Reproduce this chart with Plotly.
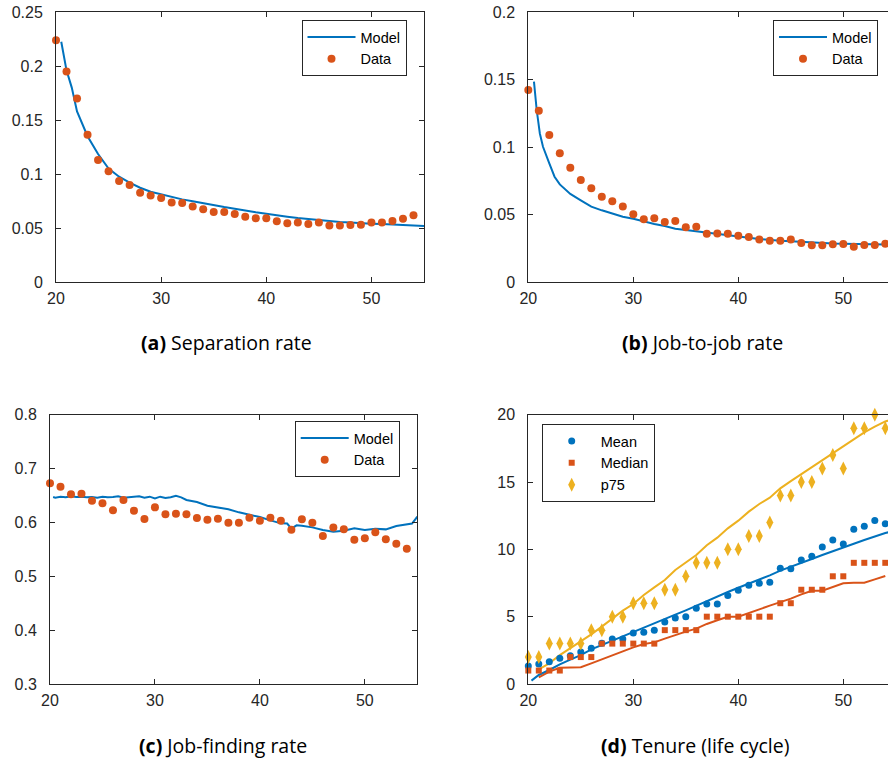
import plotly.graph_objects as go

BLUE = "#0072BD"
ORANGE = "#D95319"
YELLOW = "#EDB120"
AXC = "#262626"

ages = list(range(20, 55))

# (a) Separation rate
sep_data = [0.2238, 0.195, 0.1698, 0.1364, 0.113, 0.1025, 0.0935, 0.0898, 0.0827, 0.080,
            0.0778, 0.0735, 0.0731, 0.0698, 0.0673, 0.0648, 0.0648, 0.063, 0.0605, 0.059,
            0.059, 0.0562, 0.0543, 0.055, 0.0537, 0.055, 0.0522, 0.0522, 0.0528, 0.0531,
            0.055, 0.0552, 0.0565, 0.0586, 0.0617]
sep_model_age = [20.5, 21, 21.5, 22, 23, 24, 25, 26, 27, 28, 29, 30, 31, 32, 33, 34, 35, 36, 37, 38,
                 39, 40, 41, 42, 43, 44, 45, 46, 47, 48, 49, 50, 51, 52, 53, 54, 55]
sep_model = [0.2225, 0.196, 0.18, 0.158, 0.135, 0.1185, 0.105, 0.0975, 0.092, 0.0873, 0.0836,
             0.0812, 0.0784, 0.0765, 0.0747, 0.0728, 0.071, 0.0694, 0.0679, 0.066, 0.0645,
             0.0633, 0.0617, 0.0605, 0.0593, 0.0583, 0.0574, 0.0565, 0.0556, 0.055, 0.0543,
             0.054, 0.0537, 0.0534, 0.0528, 0.0525, 0.0519]

# (b) Job-to-job rate
j2j_data = [0.1422, 0.1269, 0.1089, 0.0953, 0.0847, 0.0756, 0.0694, 0.0632, 0.0598, 0.056,
            0.0501, 0.0464, 0.0472, 0.0444, 0.0452, 0.0405, 0.041, 0.0358, 0.036, 0.0358,
            0.0343, 0.0333, 0.0314, 0.0306, 0.0306, 0.0314, 0.0289, 0.0272, 0.0272, 0.0279,
            0.0281, 0.0262, 0.0274, 0.0274, 0.0284]
j2j_model_age = [20.54, 20.8, 21.1, 21.4, 22, 22.5, 23, 24, 25, 26, 27, 28, 29, 30, 31, 32, 33, 34,
                 35, 36, 37, 38, 39, 40, 41, 42, 43, 44, 45, 46, 47, 48, 49, 50, 51, 52, 53, 54, 55]
j2j_model = [0.1484, 0.1274, 0.110, 0.1002, 0.0879, 0.078, 0.0723, 0.0652, 0.0605, 0.0558,
             0.0531, 0.0509, 0.0484, 0.0469, 0.0447, 0.043, 0.0415, 0.0395, 0.0385, 0.0375,
             0.0363, 0.0353, 0.0343, 0.0336, 0.0328, 0.0319, 0.0311, 0.0306, 0.0301, 0.0296,
             0.0291, 0.0289, 0.0286, 0.0284, 0.0281, 0.0279, 0.0279, 0.0277, 0.0277]

# (c) Job-finding rate
jf_data = [0.6725, 0.6663, 0.6521, 0.6533, 0.6403, 0.6354, 0.6224, 0.6416, 0.6218, 0.6063,
           0.628, 0.615, 0.6162, 0.615, 0.6082, 0.6051, 0.6069, 0.5995, 0.5995, 0.6088,
           0.6032, 0.6088, 0.6032, 0.5865, 0.6057, 0.5995, 0.5748, 0.5908, 0.5871, 0.5679,
           0.5704, 0.5816, 0.5686, 0.5605, 0.5512]
jf_model_age = [20.3, 20.5, 21, 21.5, 22, 22.5, 23, 23.5, 24, 24.5, 25, 25.5, 26, 26.5, 27, 27.5,
                28, 28.5, 29, 29.5, 30, 30.5, 31, 31.5, 32, 32.5, 33, 34, 35, 36, 37, 38, 39,
                40, 41, 42, 42.6, 43, 43.5, 44, 45, 46, 47, 48, 49, 50, 51, 52, 53, 54, 54.5, 55]
jf_model = [0.6472, 0.646, 0.6478, 0.6466, 0.6484, 0.6472, 0.6478, 0.6466, 0.6472, 0.6459,
            0.6478, 0.6466, 0.6472, 0.6484, 0.6459, 0.6466, 0.6478, 0.6484, 0.6459, 0.6478,
            0.6447, 0.6478, 0.6453, 0.6466, 0.6496, 0.6466, 0.6416, 0.6379, 0.6311, 0.6273,
            0.6243, 0.6187, 0.615, 0.61, 0.6038, 0.5983, 0.5980, 0.5884, 0.5946, 0.594,
            0.5908, 0.5859, 0.5828, 0.5847, 0.589, 0.5859, 0.5884, 0.5871, 0.5933, 0.5964,
            0.598, 0.6106]

# (d) Tenure (life cycle)
ten_mean = [1.34, 1.49, 1.66, 1.91, 2.1, 2.38, 2.65, 3.02, 3.34, 3.34, 3.79, 3.84, 4.0, 4.6,
            4.9, 5.0, 5.62, 5.94, 5.94, 6.58, 6.96, 7.33, 7.48, 7.55, 8.59, 8.56, 9.21, 9.48,
            10.17, 10.69, 10.4, 11.49, 11.71, 12.15, 11.9]
ten_median = [1, 1, 1, 1, 2, 2, 2, 3, 3, 3, 3, 3, 3, 4, 4, 4, 4, 5, 5, 5, 5, 5, 5, 5, 6, 6,
              7, 7, 7, 8, 8, 9, 9, 9, 9]
ten_p75 = [2, 2, 3, 3, 3, 3, 4, 4, 5, 5, 6, 6, 6, 7, 7, 8, 9, 9, 9, 10, 10, 11, 11, 12, 14,
           14, 15, 15, 16, 17, 16, 19, 19, 20, 19]
mean_model_age = [20.3] + list(range(21, 56))
mean_model = [0.25, 0.67, 1.04, 1.46, 1.81, 2.15, 2.57, 2.9, 3.22, 3.54, 3.86, 4.18, 4.5, 4.83,
              5.15, 5.47, 5.82, 6.19, 6.49, 6.83, 7.15, 7.45, 7.77, 8.07, 8.42, 8.69, 8.99,
              9.28, 9.58, 9.88, 10.15, 10.42, 10.69, 10.97, 11.21, 11.41]
med_model_age = list(range(21, 55))
med_model = [0.5, 0.92, 1.21, 1.24, 1.24, 1.53, 1.83, 2.13, 2.43, 2.72, 2.97, 3.09, 3.37, 3.64,
             3.89, 4.11, 4.46, 4.73, 5.0, 5.0, 5.3, 5.54, 5.82, 6.06, 6.34, 6.66, 6.93, 6.93,
             7.23, 7.48, 7.52, 7.52, 7.77, 8.02]
p75_model_age = list(range(21, 56))
p75_model = [1.09, 1.53, 2.15, 2.65, 3.14, 3.69, 4.26, 4.88, 5.45, 5.94, 6.61, 7.18, 7.72, 8.47,
             9.01, 9.58, 10.3, 10.87, 11.56, 12.13, 12.8, 13.37, 13.84, 14.53, 15.07, 15.59,
             16.14, 16.63, 17.18, 17.67, 18.17, 18.69, 19.11, 19.5, 19.73]

W, H = 888, 761
fig = go.Figure()

def line(x, y, color, xa, ya, name=None, legend=None, show=False):
    fig.add_trace(go.Scatter(x=x, y=y, mode="lines", line=dict(color=color, width=2),
                             xaxis=xa, yaxis=ya, name=name, showlegend=show,
                             legend=legend, cliponaxis=True))

def pts(x, y, color, xa, ya, name, legend, symbol="circle", size=8, show=True):
    fig.add_trace(go.Scatter(x=x, y=y, mode="markers",
                             marker=dict(color=color, size=size, symbol=symbol, line=dict(width=0)),
                             xaxis=xa, yaxis=ya, name=name, showlegend=show, legend=legend,
                             cliponaxis=False))

# (a)
line(sep_model_age, sep_model, BLUE, "x", "y", "Model", "legend", True)
pts(ages, sep_data, ORANGE, "x", "y", "Data", "legend")
# (b)
line(j2j_model_age, j2j_model, BLUE, "x2", "y2", "Model", "legend2", True)
pts(ages, j2j_data, ORANGE, "x2", "y2", "Data", "legend2")
# (c)
line(jf_model_age, jf_model, BLUE, "x3", "y3", "Model", "legend3", True)
pts(ages, jf_data, ORANGE, "x3", "y3", "Data", "legend3")
# (d)
line(mean_model_age, mean_model, BLUE, "x4", "y4")
line(med_model_age, med_model, ORANGE, "x4", "y4")
line(p75_model_age, p75_model, YELLOW, "x4", "y4")
pts(ages, ten_mean, BLUE, "x4", "y4", "Mean", "legend4", "circle", 7)
pts(ages, ten_median, ORANGE, "x4", "y4", "Median", "legend4", "square", 6)
pts(ages, ten_p75, YELLOW, "x4", "y4", "p75", "legend4", "diamond-tall", 10)

tickfont = dict(family="Liberation Sans, Arial, sans-serif", size=16, color=AXC)

def xax(dom, rng, anchor):
    return dict(domain=dom, range=rng, anchor=anchor, tickvals=[20, 30, 40, 50],
                ticks="inside", ticklen=5, tickcolor=AXC, showline=True, linecolor=AXC,
                linewidth=1, mirror="ticks", showgrid=False, zeroline=False,
                tickfont=tickfont, ticklabelstandoff=2, automargin=False)

def yax(dom, rng, anchor, tv, tt, mirror):
    return dict(domain=dom, range=rng, anchor=anchor, tickvals=tv, ticktext=tt,
                ticks="inside", ticklen=5, tickcolor=AXC, showline=True, linecolor=AXC,
                linewidth=1, mirror=mirror, showgrid=False, zeroline=False,
                tickfont=tickfont, ticklabelstandoff=9, automargin=False)

def px(x):
    return x / W

def py(y):
    return 1 - y / H

rows_top = [py(282), py(12)]
rows_bot = [py(684), py(414.7)]

xa_a = [px(56), px(424)]
xa_b = [px(528.3), 1.0]
xa_c = [px(50), px(417.3)]
xa_d = [px(528.3), 1.0]
rng_b = [20, 20 + (W - 528.3) / 10.5]

legfont = dict(family="Liberation Sans, Arial, sans-serif", size=14.5, color="#000")

def leg(x, y):
    return dict(x=x, y=y, xanchor="left", yanchor="top", bgcolor="white",
                bordercolor=AXC, borderwidth=1, font=legfont, itemwidth=48,
                tracegroupgap=0)

fig.update_layout(
    template="none",
    width=W, height=H, margin=dict(l=0, r=0, t=0, b=0, autoexpand=False),
    paper_bgcolor="white", plot_bgcolor="white",
    xaxis=xax(xa_a, [20, 55], "y"),
    yaxis=yax(rows_top, [0, 0.25], "x", [0, 0.05, 0.1, 0.15, 0.2, 0.25],
              ["0", "0.05", "0.1", "0.15", "0.2", "0.25"], "ticks"),
    xaxis2=xax(xa_b, rng_b, "y2"),
    yaxis2=yax(rows_top, [0, 0.2], "x2", [0, 0.05, 0.1, 0.15, 0.2],
               ["0", "0.05", "0.1", "0.15", "0.2"], False),
    xaxis3=xax(xa_c, [20, 55], "y3"),
    yaxis3=yax(rows_bot, [0.3, 0.8], "x3", [0.3, 0.4, 0.5, 0.6, 0.7, 0.8],
               ["0.3", "0.4", "0.5", "0.6", "0.7", "0.8"], "ticks"),
    xaxis4=xax(xa_d, rng_b, "y4"),
    yaxis4=yax(rows_bot, [0, 20], "x4", [0, 5, 10, 15, 20],
               ["0", "5", "10", "15", "20"], False),
    legend=leg(px(301.5), py(20)),
    legend2=leg(px(773), py(20)),
    legend3=leg(px(294.7), py(421)),
    legend4=leg(px(541.7), py(424)),
    showlegend=True,
)

capfont = dict(family="Open Sans, sans-serif", size=19.5, color="#000")
caps = [("<b>(a)</b> Separation rate", 226, 342),
        ("<b>(b)</b> Job-to-job rate", 702, 342),
        ("<b>(c)</b> Job-finding rate", 223, 745),
        ("<b>(d)</b> Tenure (life cycle)", 695, 745)]
for t, cx, cy in caps:
    fig.add_annotation(text=t, x=px(cx), y=py(cy), xref="paper", yref="paper",
                       showarrow=False, font=capfont, xanchor="center", yanchor="middle")

fig.write_html("out.html")
